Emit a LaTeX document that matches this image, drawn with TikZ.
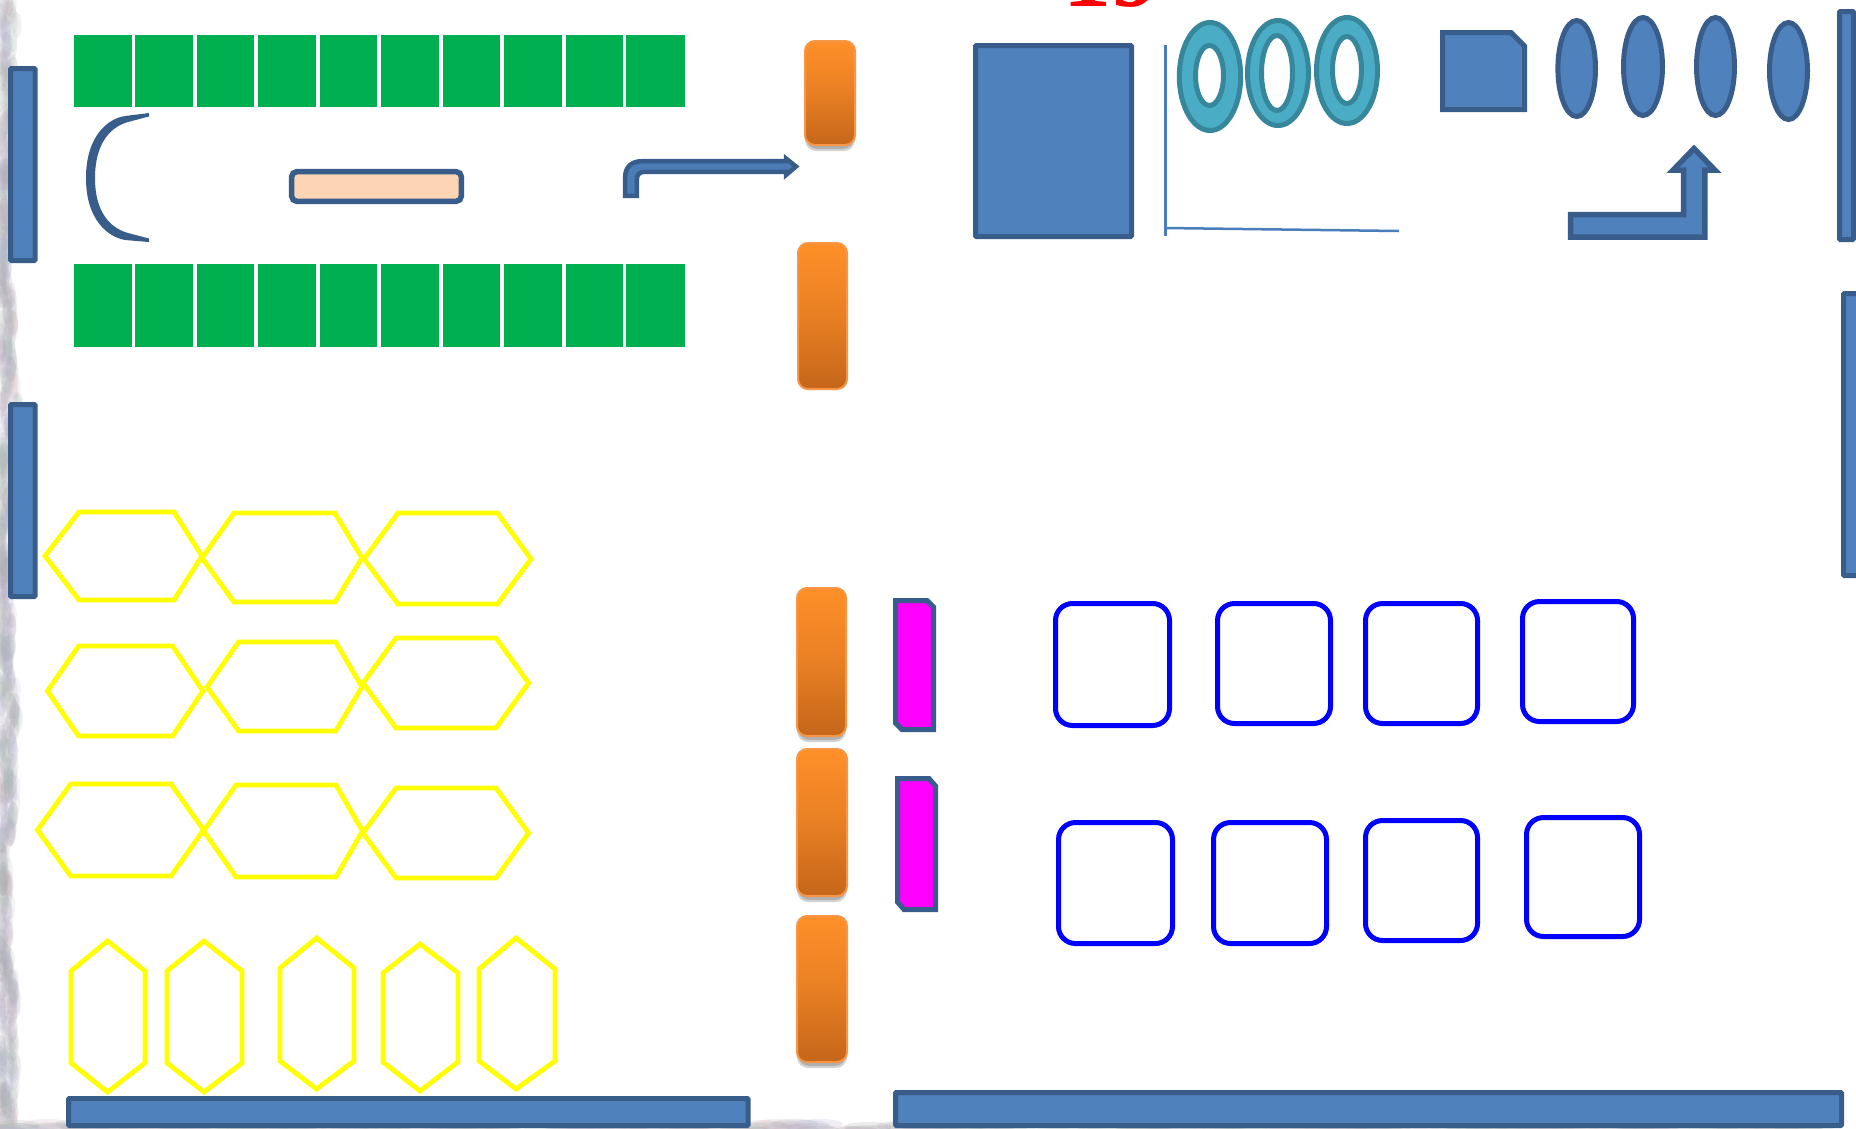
\documentclass[tikz,border=0pt]{standalone}
\usepackage{fontspec}
\setmainfont{Liberation Serif}
\definecolor{barfill}{HTML}{4F81BD}
\definecolor{barline}{HTML}{385D8A}
\definecolor{grn}{HTML}{00B050}
\definecolor{ringfill}{HTML}{4BACC6}
\definecolor{ringline}{HTML}{37879C}
\definecolor{orgtop}{HTML}{FF9029}
\definecolor{orgbot}{HTML}{C5661A}
\definecolor{orgline}{HTML}{F79646}
\definecolor{peach}{HTML}{FCD5B5}
\definecolor{axisblue}{HTML}{4A7EBB}
\definecolor{puremag}{HTML}{FF00FF}
\definecolor{pureyel}{HTML}{FFFF00}
\definecolor{pureblue}{HTML}{0000FF}
\definecolor{purered}{HTML}{FF0000}
\definecolor{mott0}{HTML}{A9ABB0}
\definecolor{mott1}{HTML}{B8B6D8}
\definecolor{mott2}{HTML}{CDB4BE}
\definecolor{mott3}{HTML}{A8BDB4}
\tikzset{
  x=1pt,y=-1pt,
  barshape/.style={draw=barline,fill=barfill,line width=5pt,rounded corners=1pt},
  thinblue/.style={draw=barline,fill=barfill,line width=5pt},
  ringshape/.style={draw=ringline,fill=ringfill,line width=5pt,even odd rule},
  hexshape/.style={draw=pureyel,line width=4.8pt,line join=miter},
  cell/.style={fill=grn},
  roundbox/.style={draw=pureblue,line width=5pt,rounded corners=17pt},
  magbox/.style={draw=barline,fill=puremag,line width=5pt},
  orgbox/.style={draw=orgline,line width=2pt,top color=orgtop,bottom color=orgbot,middle color=orgtop!60!orgbot,rounded corners=10pt},
  orgshadow/.style={fill=black,opacity=.17,rounded corners=11pt},
}
\newcommand{\orgbar}[4]{%
  \fill[orgshadow] (#1+1,#2+4) rectangle (#3-1,#4+5);
  \fill[orgshadow] (#1+2,#2+4) rectangle (#3-2,#4+3);
  \path[orgbox] (#1+1,#2+1) rectangle (#3-1,#4-1);
}
\newcommand{\hexh}[7]{% left, sh1, sh2, right, top, mid, bottom
  \draw[hexshape] (#1,#6) -- (#2,#5) -- (#3,#5) -- (#4,#6) -- (#3,#7) -- (#2,#7) -- cycle;
}
\newcommand{\hexv}[6]{% left, centre, right, top, sh1, sh2
  \draw[hexshape] (#2,#4) -- (#3,#5) -- (#3,#6) -- (#2,#4+151) -- (#1,#6) -- (#1,#5) -- cycle;
}
\begin{document}
\begin{tikzpicture}
\useasboundingbox (0,0) rectangle (1856,1128);
\fill[white] (0,0) rectangle (1856,1128);
\begin{scope}
\clip (0,0) rectangle (1856,1128);
% paper texture: left edge
\pgfmathsetseed{4127}
\foreach \kk in {1,...,700}{
  \pgfmathsetmacro{\myy}{random(0,1128)}
  \pgfmathsetmacro{\myw}{13+4*sin(\myy*1.1)+2*sin(\myy*3.7)}
  \pgfmathsetmacro{\myx}{random(0,100)*\myw/100}
  \pgfmathtruncatemacro{\myc}{mod(\kk,4)}
  \fill[mott\myc,opacity=.16] (\myx,\myy) ellipse [x radius=5,y radius=13];
}
% paper texture: bottom edge
\foreach \kk in {1,...,260}{
  \pgfmathsetmacro{\myx}{random(0,1856)}
  \pgfmathsetmacro{\myy}{random(1124,1132)}
  \pgfmathtruncatemacro{\myc}{mod(\kk,4)}
  \fill[mott\myc,opacity=.22] (\myx,\myy) ellipse [x radius=24,y radius=5];
}
% red page number, cut by the top edge
\node[anchor=base,text=purered,font=\bfseries\fontsize{96}{96}\selectfont,inner sep=0pt] (pagenum) at (1111,6) {19};
\end{scope}
% green cells
\foreach \a/\b in {74/132,135/193,197/254,258/316,320/377,381/439,443/500,504/562,566/623,626/685}{
  \fill[cell] (\a,35) rectangle (\b,107);
  \fill[cell] (\a,264) rectangle (\b,347);
}
% side bars
\path[barshape] (10.5,68.5) rectangle (35,260.5);
\path[barshape] (10.5,404.5) rectangle (35,596.5);
\path[barshape] (1839.5,11.5) rectangle (1853.5,239.5);
\path[barshape] (1843.5,293.5) rectangle (1862,575.5);
\path[barshape] (68.5,1098.5) rectangle (748,1125.5);
\path[barshape] (895.5,1092.5) rectangle (1841.5,1125.5);
% bracket
\fill[barline] (149,113) -- (125,116) .. controls (108,118.5) and (86,136) .. (86,178)
  .. controls (86,220) and (108,237) .. (125,240) -- (149,242) -- (149,238.5) -- (128,233)
  .. controls (110,228) and (95,212) .. (95,178) .. controls (95,144) and (110,127) .. (128,122)
  -- (149,116.5) -- cycle;
% peach bar
\draw[draw=barline,fill=peach,line width=5.5pt,rounded corners=5pt] (291.7,171.7) rectangle (461.3,201.3);
% bent arrow
\draw[draw=barline,fill=barfill!85!barline,line width=4.5pt,line join=miter]
  (625.2,195.8) -- (625.2,177) .. controls (625.2,166.5) and (632,161.2) .. (642,161.2)
  -- (786,161.2) -- (786,158.5) -- (796,166.5) -- (786,175) -- (786,171.8) -- (645,171.8)
  .. controls (639.5,171.8) and (636.8,174.5) .. (636.8,180) -- (636.8,195.8) -- cycle;
% orange bars
\orgbar{804}{40}{856}{146}
\path[orgbox] (798,243) rectangle (847,389);
\orgbar{796}{587}{847}{737}
\orgbar{796}{748}{848}{897}
\orgbar{796}{915}{848}{1063}
% magenta bars
\draw[magbox] (895.5,600.5) -- (927,600.5) -- (933.5,607) -- (933.5,729.5) -- (902,729.5) -- (895.5,723) -- cycle;
\draw[magbox] (897.5,778.5) -- (929,778.5) -- (935.5,786) -- (935.5,909.5) -- (904,909.5) -- (897.5,902) -- cycle;
% rounded blue boxes
\foreach \a/\b/\c/\d in {1055.5/603.5/1169.5/725.5,1217.5/603.5/1330.5/723.5,1365.5/603.5/1477.5/723.5,1522.5/601.5/1633.5/721.5,
  1058.5/822.5/1172.5/943.5,1213.5/822.5/1326.5/943.5,1365.5/820.5/1477.5/940.5,1526.5/817.5/1639.5/936.5}{
  \draw[roundbox] (\a,\b) rectangle (\c,\d);
}
% large blue square and axes
\path[barshape] (975.5,45.5) rectangle (1131.5,236.5);
\draw[axisblue,line width=3pt] (1165,45) -- (1165,236);
\draw[axisblue,line width=2.5pt] (1165,228) -- (1399,231);
% rings
\draw[ringshape] (1210,76.5) ellipse [x radius=30.7,y radius=54] (1209.5,75.5) ellipse [x radius=14,y radius=30];
\draw[ringshape] (1278,73) ellipse [x radius=30.5,y radius=52.5] (1277,73) ellipse [x radius=15.5,y radius=37.5];
\draw[ringshape] (1347,70.5) ellipse [x radius=30.5,y radius=53] (1347,70) ellipse [x radius=14.5,y radius=33.5];
% snipped square
\draw[draw=barline,fill=barfill,line width=5pt,line join=miter] (1442.5,32.5) -- (1511,32.5) -- (1524.5,46) -- (1524.5,109.5) -- (1442.5,109.5) -- cycle;
% ellipses
\draw[thinblue] (1576.7,68.5) ellipse [x radius=18.8,y radius=48];
\draw[thinblue] (1643,66.5) ellipse [x radius=19.5,y radius=49];
\draw[thinblue] (1715.5,66.5) ellipse [x radius=19,y radius=49];
\draw[thinblue] (1788.5,71) ellipse [x radius=19,y radius=48.5];
% bent-up arrow
\draw[draw=barline,fill=barfill,line width=5.5pt,line join=miter]
  (1570.7,237.2) -- (1704.8,237.2) -- (1704.8,170.2) -- (1715,170.2) -- (1694,148.5) -- (1673,170.2)
  -- (1683.7,170.2) -- (1683.7,214.7) -- (1570.7,214.7) -- cycle;
% yellow hexagons, horizontal
\hexh{45}{79}{174}{202}{512}{556}{600}
\hexh{202}{234}{335}{362}{513}{558}{602}
\hexh{364}{398}{497.5}{531}{513}{559}{604}
\hexh{47.5}{78.6}{172.5}{203}{646}{691}{736}
\hexh{207}{238.6}{335.7}{362}{642}{687}{731}
\hexh{363}{396}{496}{528.6}{638}{683}{728}
\hexh{37.5}{70.7}{171}{203.6}{784}{830}{876}
\hexh{203.6}{236}{336}{362.5}{785}{831}{877}
\hexh{363}{396}{496}{528.6}{788}{833}{878}
% yellow hexagons, vertical
\hexv{71}{107.5}{145}{941}{971}{1063}
\hexv{167}{204}{242}{941}{971}{1063}
\hexv{280}{316.5}{354}{938}{968}{1061}
\draw[hexshape] (420,944) -- (458,973) -- (458,1062) -- (420,1091) -- (383,1062) -- (383,973) -- cycle;
\hexv{479}{516}{555}{938}{969}{1061}
\end{tikzpicture}
\end{document}
